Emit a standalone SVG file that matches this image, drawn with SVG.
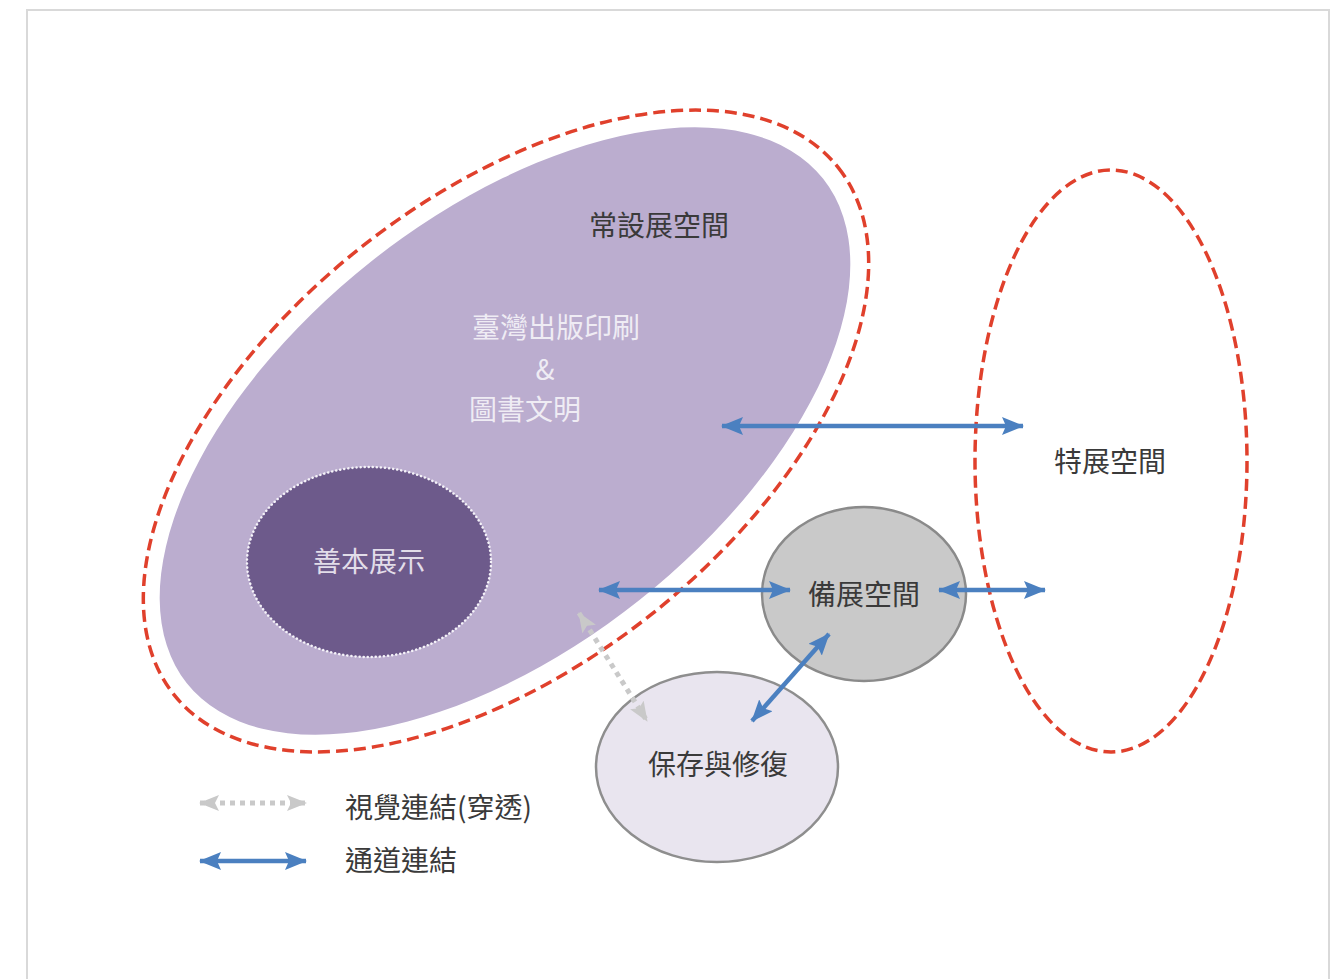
<svg xmlns="http://www.w3.org/2000/svg" width="1331" height="979" viewBox="0 0 1331 979">
<style>
.t{font-family:"Noto Sans CJK TC","Noto Sans",sans-serif;font-size:28px;text-anchor:middle}
.dark{fill:#3a3a3a}
.light{fill:#efecf4}
.red{fill:none;stroke:#e0402c;stroke-width:3.5;stroke-dasharray:12 6}
.blue{stroke:#4b80c0;stroke-width:4.5;fill:none;marker-start:url(#bh);marker-end:url(#bh)}
.gray{stroke:#c9c9c9;stroke-width:5;fill:none;stroke-dasharray:5 5;marker-start:url(#gh);marker-end:url(#gh)}
</style>
<defs>
<marker id="bh" viewBox="0 0 22 18" refX="21" refY="9" markerWidth="22" markerHeight="18" orient="auto-start-reverse" markerUnits="userSpaceOnUse">
<path d="M0,0 L22,9 L0,18 L4,9 z" fill="#4b80c0"/>
</marker>
<marker id="gh" viewBox="0 0 20 16" refX="19" refY="8" markerWidth="20" markerHeight="16" orient="auto-start-reverse" markerUnits="userSpaceOnUse">
<path d="M0,0 L20,8 L0,16 L4,8 z" fill="#c9c9c9"/>
</marker>
</defs>
<rect x="0" y="0" width="1331" height="979" fill="#ffffff"/>
<rect x="27" y="10" width="1302" height="990" fill="#ffffff" stroke="#d9d9d9" stroke-width="2"/>

<g id="permanent">
<ellipse cx="506" cy="431" rx="424" ry="234" transform="rotate(-38.4 506 431)" class="red"/>
<ellipse cx="505" cy="431" rx="406" ry="216" transform="rotate(-38.4 505 431)" fill="#bbadcf"/>
<text class="t dark" x="659" y="236">常設展空間</text>
<text class="t light" x="556" y="338">臺灣出版印刷</text>
<text class="t light" x="545" y="380">&amp;</text>
<text class="t light" x="525" y="420">圖書文明</text>
</g>

<g id="rare-books">
<ellipse cx="369" cy="562" rx="122" ry="95" fill="#6d5a8b" stroke="#f4f2f8" stroke-width="2.5" stroke-dasharray="0.1 4" stroke-linecap="round"/>
<text class="t" fill="#e2dde9" x="369" y="572">善本展示</text>
</g>

<g id="special">
<ellipse cx="1111" cy="461" rx="136" ry="291" class="red"/>
<text class="t dark" x="1110" y="472">特展空間</text>
</g>

<g id="prep">
<ellipse cx="864" cy="594" rx="102" ry="87" fill="#c9c9c9" stroke="#8a8a8a" stroke-width="2.5"/>
<text class="t dark" x="864" y="605">備展空間</text>
</g>

<g id="conservation">
<ellipse cx="717" cy="767" rx="121" ry="95" fill="#e9e5ef" stroke="#8e8e8e" stroke-width="2.5"/>
<text class="t dark" x="718" y="775">保存與修復</text>
</g>

<g id="connectors">
<line class="blue" x1="722" y1="426" x2="1023" y2="426"/>
<line class="blue" x1="599" y1="590" x2="790" y2="590"/>
<line class="blue" x1="939" y1="590" x2="1045" y2="590"/>
<line class="blue" x1="829" y1="634" x2="752" y2="721"/>
<line class="gray" x1="579" y1="613" x2="647" y2="721"/>
</g>

<g id="legend">
<line class="gray" x1="200" y1="803" x2="306" y2="803"/>
<text class="t dark" x="345" y="818" style="text-anchor:start">視覺連結(穿透)</text>
<line class="blue" x1="200" y1="861" x2="306" y2="861"/>
<text class="t dark" x="345" y="871" style="text-anchor:start">通道連結</text>
</g>
</svg>
